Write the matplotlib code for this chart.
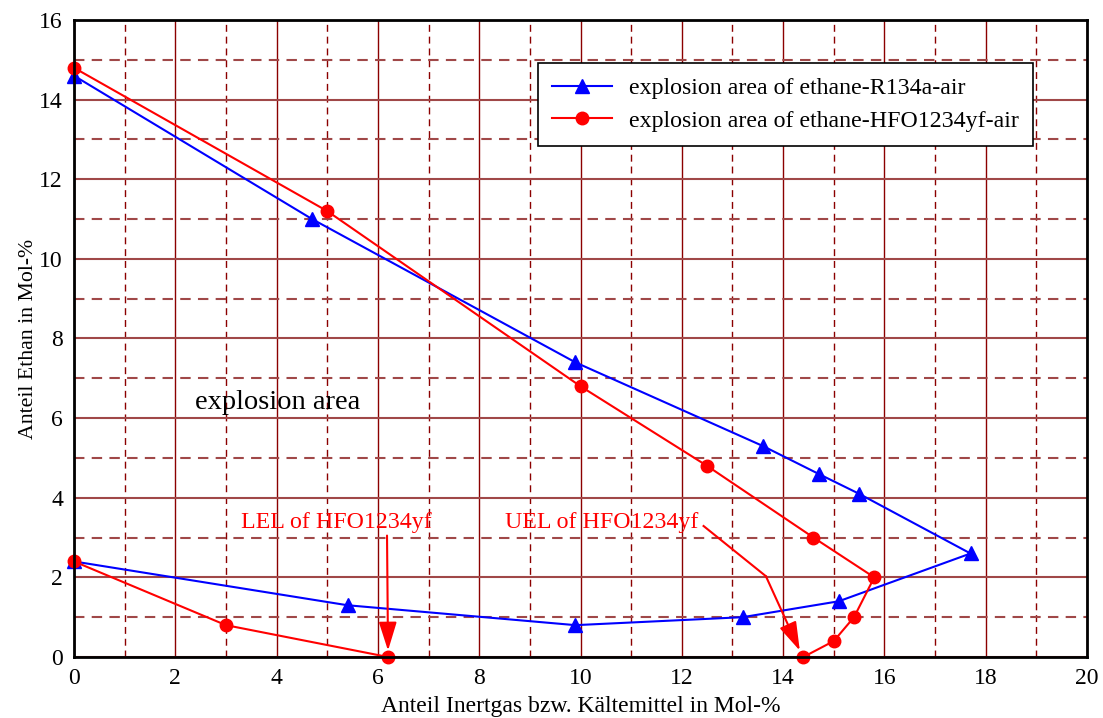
import matplotlib
matplotlib.use("Agg")
import matplotlib.pyplot as plt
from matplotlib.ticker import MultipleLocator

plt.rcParams["font.family"] = ["Liberation Serif", "DejaVu Serif"]

# explosion area of ethane-R134a-air
r134a_x = [0.0, 4.7, 9.9, 13.6, 14.7, 15.5, 17.7, 15.1, 13.2, 9.9, 5.4, 0.0]
r134a_y = [14.6, 11.0, 7.4, 5.3, 4.6, 4.1, 2.6, 1.4, 1.0, 0.8, 1.3, 2.4]

# explosion area of ethane-HFO1234yf-air (upper branch and lower branch)
hfo_upper_x = [0.0, 5.0, 10.0, 12.5, 14.6, 15.8, 15.4, 15.0, 14.4]
hfo_upper_y = [14.8, 11.2, 6.8, 4.8, 3.0, 2.0, 1.0, 0.4, 0.0]
hfo_lower_x = [0.0, 3.0, 6.2]
hfo_lower_y = [2.4, 0.8, 0.0]

# annotation anchors (data coords)
lel_text = (3.3, 3.37)
lel_arrow = [(6.18, 3.05), (6.2, 0.16)]
uel_text = (8.5, 3.37)
uel_arrow = [(12.43, 3.29), (13.66, 2.03), (14.33, 0.16)]
area_text = (2.39, 6.38)

fig = plt.figure(figsize=(11.03, 7.18), dpi=100)
ax = fig.add_axes([74 / 1103, 1 - 657 / 718, 1013 / 1103, 637 / 718])

ax.xaxis.set_major_locator(MultipleLocator(2))
ax.xaxis.set_minor_locator(MultipleLocator(1))
ax.yaxis.set_major_locator(MultipleLocator(2))
ax.yaxis.set_minor_locator(MultipleLocator(1))
dash = (0, (5, 3.5))
ax.grid(which="major", axis="x", color="#8B0000", lw=1.0, ls="-")
ax.grid(which="minor", axis="x", color="#8B0000", lw=1.0, ls=dash)
ax.grid(which="major", axis="y", color="#A04848", lw=1.5, ls="-")
ax.grid(which="minor", axis="y", color="#A04848", lw=1.5, ls=dash)
ax.set_axisbelow(True)

ax.plot(r134a_x, r134a_y, color="blue", lw=1.5, marker="^", ms=10.5,
        label="explosion area of ethane-R134a-air", zorder=3, clip_on=False)
ax.plot(hfo_upper_x, hfo_upper_y, color="red", lw=1.5, marker="o", ms=9,
        label="explosion area of ethane-HFO1234yf-air", zorder=4, clip_on=False)
ax.plot(hfo_lower_x, hfo_lower_y, color="red", lw=1.5, marker="o", ms=9,
        zorder=4, clip_on=False)

ax.set_xlim(0, 20)
ax.set_ylim(0, 16)

for s in ax.spines.values():
    s.set_linewidth(2)
    s.set_color("black")
    s.set_zorder(5)
ax.tick_params(which="both", length=0, labelsize=17, pad=8)

ax.set_xlabel("Anteil Inertgas bzw. Kältemittel in Mol-%", fontsize=17, labelpad=5)
ax.set_ylabel("Anteil Ethan in Mol-%", fontsize=15.7, labelpad=1)

ax.text(*area_text, "explosion area", fontsize=20.5, va="center", ha="left")

head = "-|>,head_length=0.8,head_width=0.25"

# LEL annotation
ax.text(*lel_text, "LEL of HFO1234yf", fontsize=17.2, color="red",
        va="center", ha="left")
ax.annotate("", xy=lel_arrow[1], xytext=lel_arrow[0],
            arrowprops=dict(arrowstyle=head, color="red", lw=1.5,
                            mutation_scale=22, shrinkA=0, shrinkB=0))

# UEL annotation
ax.text(*uel_text, "UEL of HFO1234yf", fontsize=17.2, color="red",
        va="center", ha="left")
ax.plot([uel_arrow[0][0], uel_arrow[1][0]], [uel_arrow[0][1], uel_arrow[1][1]],
        color="red", lw=1.5)
ax.annotate("", xy=uel_arrow[2], xytext=uel_arrow[1],
            arrowprops=dict(arrowstyle=head, color="red", lw=1.5,
                            mutation_scale=22, shrinkA=0, shrinkB=0))

leg = ax.legend(loc="upper left", bbox_to_anchor=(0.458, 0.9325), fontsize=17.2,
                frameon=True, fancybox=False, edgecolor="black",
                framealpha=1, handlelength=2.5, handletextpad=0.7,
                borderpad=0.6, labelspacing=0.45, borderaxespad=0)
leg.get_frame().set_linewidth(1.2)

fig.savefig("out.png", dpi=100)
